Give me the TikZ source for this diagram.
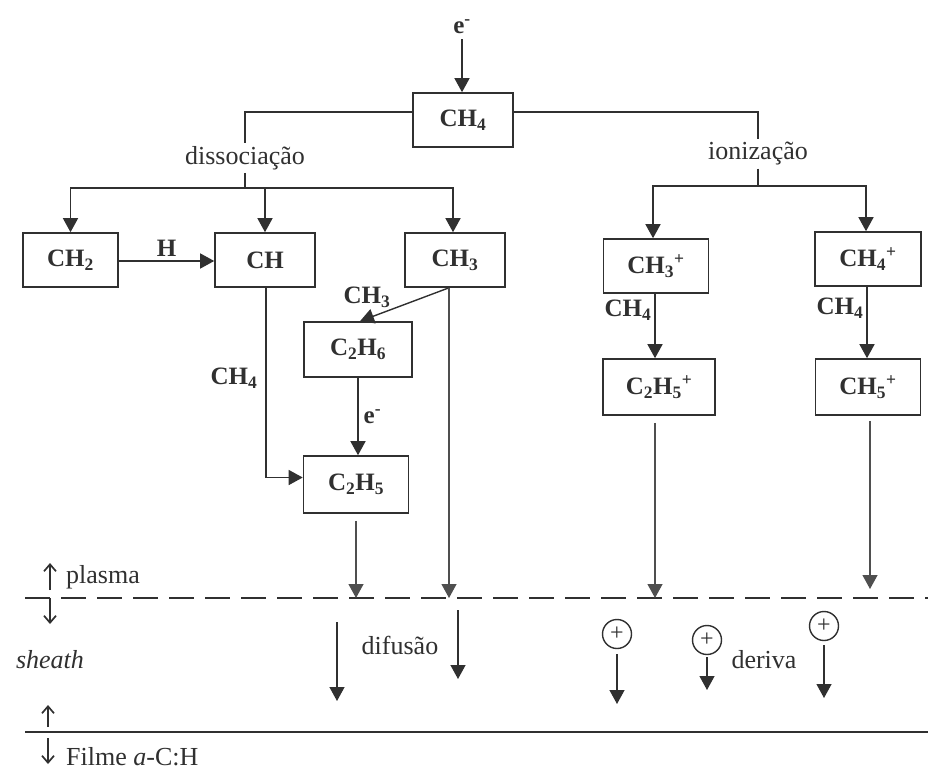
\documentclass[tikz,border=0pt]{standalone}
\usepackage{fontspec}
\setmainfont{Liberation Serif}
\usetikzlibrary{arrows.meta,calc}
\definecolor{ink}{HTML}{303030}
\begin{document}
\begin{tikzpicture}[x=1pt,y=-1pt,
  box/.style={draw=ink, line width=1.6pt, text=ink, inner sep=0pt,
    minimum height=54pt, font=\fontsize{25}{30}\selectfont\bfseries},
  blbl/.style={text=ink, inner sep=1pt, font=\fontsize{25}{30}\selectfont\bfseries},
  lbl/.style={text=ink, inner sep=3pt, font=\fontsize{26}{30}\selectfont},
  con/.style={draw=ink, line width=1.4pt},
  arr/.style={draw=ink, line width=1.4pt, -{Triangle[length=14pt,width=15pt]}},
  larr/.style={draw=ink!85, line width=1.2pt, -{Triangle[length=14pt,width=15pt]}},
  barb/.style={draw=ink, line width=1.7pt, -{Straight Barb[length=7pt,width=12pt,line width=1.7pt]}},
  ion/.style={circle, draw=ink, line width=1.4pt, minimum size=29pt, inner sep=0pt,
    text=ink, font=\fontsize{24}{24}\selectfont}
]
\useasboundingbox (0,0) rectangle (928,771);

% top
\node[blbl] (e) at (462,27) {e\textsuperscript{-}};
\node[box, minimum width=100pt] (ch4) at (463,120) {CH\textsubscript{4}};
\draw[arr] ([yshift=-4pt]e.south) -- (e.south |- ch4.north);

% branch labels
\node[lbl] (diss) at (245,158) {dissociação};
\node[lbl] (ionz) at (758,154) {ionização};
\coordinate (dj) at (245,188);
\coordinate (ij) at (758,186);
\draw[con] ([yshift=8pt]ch4.west) -| (diss.north);
\draw[con] ([yshift=8pt]ch4.east) -| (ionz.north);
\draw[con] (diss.south) -- (dj);
\draw[con] (ionz.south) -- (ij);

% first row
\node[box, minimum width=95pt] (ch2) at (70.5,260) {CH\textsubscript{2}};
\node[box, minimum width=100pt] (ch) at (265,260) {CH};
\node[box, minimum width=100pt] (ch3) at (455,260) {CH\textsubscript{3}};
\node[box, minimum width=105pt] (ch3p) at (656,266) {CH\textsubscript{3}\textsuperscript{+}};
\node[box, minimum width=106pt] (ch4p) at (868,259) {CH\textsubscript{4}\textsuperscript{+}};

\draw[arr] (dj) -| (ch2.north);
\draw[arr] (dj) -| (ch.north);
\draw[arr] (dj) -| ([xshift=-2pt]ch3.north);
\draw[arr] (ij) -| ([xshift=-3pt]ch3p.north);
\draw[arr] (ij) -| ([xshift=-2pt]ch4p.north);

\draw[arr] ([yshift=-1pt]ch2.east) -- node[blbl, above=3pt] (hl) {H} ([yshift=-1pt]ch.west);

% second row
\node[box, minimum width=108pt, minimum height=55pt] (c2h6) at (358,349.5) {C\textsubscript{2}H\textsubscript{6}};
\node[box, minimum width=105pt, minimum height=57pt] (c2h5) at (356,484.5) {C\textsubscript{2}H\textsubscript{5}};
\node[box, minimum width=112pt, minimum height=56pt] (c2h5p) at (659,387) {C\textsubscript{2}H\textsubscript{5}\textsuperscript{+}};
\node[box, minimum width=105pt, minimum height=56pt] (ch5p) at (868,387) {CH\textsubscript{5}\textsuperscript{+}};

\coordinate (ch3b) at ([xshift=-6pt]ch3.south);
\draw[arr] (ch3b) -- ([xshift=2pt]c2h6.north);
\node[blbl] (l1) at (367,297) {CH\textsubscript{3}};

\draw[arr] ([xshift=1pt]ch.south) |- ([yshift=7pt]c2h5.west);
\node[blbl] (l2) at (234,378) {CH\textsubscript{4}};

\draw[arr] (c2h6.south) -- node[blbl, right=4pt] (l3) {e\textsuperscript{-}} (c2h6.south |- c2h5.north);

\draw[arr] ([xshift=-1pt]ch3p.south) -- node[blbl, left=2pt, pos=0.25] (l4) {CH\textsubscript{4}} ([xshift=-1pt]ch3p.south |- c2h5p.north);
\draw[arr] ([xshift=-1pt]ch4p.south) -- node[blbl, left=2pt, pos=0.3] (l5) {CH\textsubscript{4}} ([xshift=-1pt]ch4p.south |- ch5p.north);

% plasma boundary
\coordinate (pl) at (0,598);
\coordinate (dL) at (25,598);
\coordinate (dR) at (928,598);
\coordinate (sL) at (25,732);
\coordinate (sR) at (928,732);
\draw[draw=ink, line width=1.9pt, dash pattern=on 25pt off 11pt] (dL) -- (dR);
\draw[draw=ink, line width=2.4pt] (sL) -- (sR);

\draw[larr, shorten <=7pt] (c2h5.south) -- (c2h5.south |- pl);
\draw[larr] (ch3b) -- (ch3b |- pl);
\coordinate (c5b) at ([xshift=-4pt]c2h5p.south);
\draw[larr, shorten <=7pt] (c5b) -- (c5b |- pl);
\coordinate (h5b) at ([xshift=2pt]ch5p.south);
\coordinate (h5e) at (870,589);
\draw[larr, shorten <=5pt] (h5b) -- (h5e);

% left-side labels
\coordinate (pa1) at (50,590);
\coordinate (pa2) at (50,563);
\coordinate (pa3) at (50,598);
\coordinate (pa4) at (50,624);
\coordinate (fa1) at (48,727);
\coordinate (fa2) at (48,705);
\coordinate (fa3) at (48,738);
\coordinate (fa4) at (48,764);
\draw[barb] (pa1) -- (pa2);
\draw[barb] (pa3) -- (pa4);
\draw[barb] (fa1) -- (fa2);
\draw[barb] (fa3) -- (fa4);
\node[lbl, anchor=west, inner sep=0pt] (plasma) at (66,577) {plasma};
\node[lbl, inner sep=0pt] (sheath) at (50,660) {\itshape sheath};
\node[lbl, anchor=west, inner sep=0pt] (filme) at (66,757) {Filme \textit{a}-C:H};

% diffusion
\coordinate (df1a) at (337,622);
\coordinate (df1b) at (337,701);
\coordinate (df2a) at (458,610);
\coordinate (df2b) at (458,679);
\draw[arr, line width=1.3pt] (df1a) -- (df1b);
\draw[arr, line width=1.3pt] (df2a) -- (df2b);
\node[lbl] (dif) at (400,645) {difusão};

% drift
\node[ion] (q1) at (617,634) {+};
\node[ion] (q2) at (707,640) {+};
\node[ion] (q3) at (824,626) {+};
\coordinate (q1e) at (617,704);
\coordinate (q2e) at (707,690);
\coordinate (q3e) at (824,698);
\draw[arr, line width=1.3pt, shorten <=5pt] (q1.south) -- (q1e);
\draw[arr, line width=1.3pt, shorten <=2pt] (q2.south) -- (q2e);
\draw[arr, line width=1.3pt, shorten <=4pt] (q3.south) -- (q3e);
\node[lbl] (der) at (764,660) {deriva};
\end{tikzpicture}
\end{document}
